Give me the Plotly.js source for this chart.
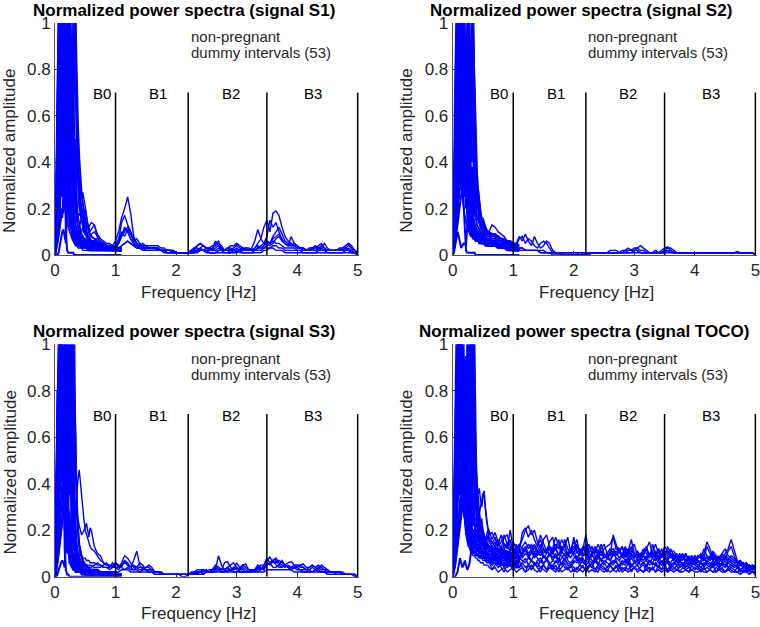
<!DOCTYPE html>
<html><head><meta charset="utf-8">
<script src="https://cdn.plot.ly/plotly-3.0.1.min.js"></script>
<style>html,body{margin:0;padding:0;background:#fff}#chart{width:760px;height:627px}</style>
</head><body><div id="chart"></div>
<script>
// ---------------- data ----------------
const freq = [0,.02,.04,.06,.08,.1,.12,.14,.16,.18,.2,.22,.24,.26,.28,.3,.32,.34,.36,.38,.4,.42,.44,.46,.48,.5,.52,.54,.56,.58,.6,
.65,.7,.75,.8,.85,.9,.95,1,1.05,1.1,
1.15,1.2,1.25,1.3,1.35,1.4,1.45,1.5,1.55,1.6,
1.65,1.7,1.75,1.8,1.85,1.9,1.95,2,2.05,2.1,
2.15,2.2,2.25,2.3,2.35,2.4,2.45,2.5,2.55,2.6,
2.65,2.7,2.75,2.8,2.85,2.9,2.95,3,3.05,3.1,
3.15,3.2,3.25,3.3,3.35,3.4,3.45,3.5,3.55,3.6,
3.65,3.7,3.75,3.8,3.85,3.9,3.95,4,4.05,4.1,
4.15,4.2,4.25,4.3,4.35,4.4,4.45,4.5,4.55,4.6,
4.65,4.7,4.75,4.8,4.85,4.9,4.95,5];

const bandEdges = [1, 2.2, 3.5, 5];
const bandTop = 0.7;
const bandLabels = ['B0', 'B1', 'B2', 'B3'];
const bandLabelX = [0.77, 1.7, 2.9, 4.26];
const noteLines = ['non-pregnant', 'dummy intervals (53)'];
const noteY = [0.94, 0.871];
const noteX = 2.21;
const panelTitles = ['Normalized power spectra (signal S1)', 'Normalized power spectra (signal S2)',
  'Normalized power spectra (signal S3)', 'Normalized power spectra (signal TOCO)'];
const xTitle = 'Frequency [Hz]';
const yTitle = 'Normalized amplitude';
const xTicks = [0, 1, 2, 3, 4, 5];
const yTicks = [0, 0.2, 0.4, 0.6, 0.8, 1];

// ===== S1 : low-frequency spectra (0 - 1.1 Hz) =====
const s1_p01 = [.02,.2,.6,1,.72,.95,.5,.8,.4,.55,.25,.3,.15,.12,.09,.07,.06,.05,.05,.04,.04,.04,.03,.03,.03,.03,.03,.02,.02,.02,.02, .02,.02,.02,.02,.02,.02,.02,.02,.02,.02];
const s1_p02 = [0,.08,.35,.78,1,.6,.92,.7,.28,.1,.02,.01,.01,.01,.01,.01,0,0,0,0,0,0,0,0,0,0,0,0,0,0,0, 0,0,0,0,0,0,0,0,0,0];
const s1_p03 = [.18,.22,.45,.7,.5,1,.62,.9,.48,.7,.35,.42,.2,.14,.1,.08,.07,.06,.05,.05,.04,.04,.04,.03,.03,.03,.03,.03,.03,.03,.02, .02,.02,.02,.02,.02,.02,.02,.02,.02,.02];
const s1_p04 = [0,.03,.15,.4,.85,.6,1,.55,.88,.45,.6,.3,.38,.18,.12,.09,.07,.06,.05,.05,.04,.04,.04,.03,.03,.03,.03,.03,.02,.02,.02, .02,.02,.02,.02,.02,.02,.02,.02,.02,.02];
const s1_p05 = [.2,.19,.3,.55,.4,.75,.5,1,.65,.9,.4,.55,.22,.3,.14,.1,.08,.07,.06,.06,.05,.05,.05,.04,.04,.04,.04,.03,.03,.03,.03, .03,.03,.03,.02,.02,.02,.02,.02,.02,.02];
const s1_p06 = [.05,.1,.25,.4,.62,.45,.8,.6,1,.7,.95,.5,.6,.25,.18,.12,.09,.08,.07,.06,.06,.05,.05,.05,.04,.04,.04,.04,.03,.03,.03, .03,.03,.03,.03,.02,.02,.02,.02,.02,.02];
const s1_p07 = [0,.04,.15,.3,.5,.38,.65,.45,.85,.6,1,.72,.9,.4,.5,.2,.14,.11,.09,.08,.07,.06,.06,.05,.05,.05,.04,.04,.04,.04,.03, .03,.03,.03,.03,.03,.02,.02,.02,.02,.02];
const s1_p08 = [.02,.06,.18,.3,.45,.65,.4,.7,.5,.9,.6,1,.55,.85,.3,.4,.18,.13,.1,.09,.08,.07,.06,.06,.05,.05,.05,.04,.04,.04,.04, .03,.03,.03,.03,.03,.03,.02,.02,.02,.02];
const s1_p09 = [0,.05,.12,.22,.35,.28,.5,.35,.65,.45,.8,.55,1,.6,.9,.35,.45,.2,.15,.12,.1,.09,.08,.07,.06,.06,.05,.05,.05,.04,.04, .04,.04,.03,.03,.03,.03,.03,.02,.02,.02];
const s1_p10 = [.08,.12,.18,.25,.3,.45,.32,.55,.4,.7,.5,.82,.62,1,.7,.88,.4,.5,.22,.16,.13,.11,.09,.08,.07,.07,.06,.06,.05,.05,.05, .04,.04,.04,.03,.03,.03,.03,.03,.02,.02];
const s1_p11 = [0,0,0,.01,.04,.08,.1,.11,.08,.05,.2,.45,.3,.65,.5,1,.7,.92,.45,.3,.22,.18,.15,.12,.1,.09,.08,.07,.06,.06,.05, .05,.04,.04,.04,.03,.03,.03,.03,.03,.02];
const s1_p12 = [.03,.05,.1,.16,.2,.3,.25,.4,.3,.55,.4,.7,.5,.85,.6,.95,.75,1,.5,.35,.25,.2,.17,.14,.12,.1,.09,.08,.07,.06,.06, .05,.05,.04,.04,.04,.03,.03,.03,.03,.03];
const s1_p13 = [.01,.03,.06,.1,.14,.2,.16,.28,.22,.38,.3,.5,.4,.62,.8,.55,1,.7,.62,.4,.3,.24,.2,.17,.14,.12,.1,.09,.08,.07,.06, .06,.05,.05,.04,.04,.04,.04,.03,.03,.03];
const s1_p14 = [0,.02,.05,.08,.12,.16,.2,.18,.25,.22,.32,.28,.42,.36,.55,.7,.9,1,.72,.55,.42,.32,.26,.22,.18,.15,.13,.11,.1,.09,.08, .07,.06,.05,.05,.04,.04,.04,.04,.03,.03];
const s1_p15 = [.1,.3,.7,1,.6,.85,.4,.7,.3,.5,.2,.3,.12,.2,.1,.15,.08,.12,.07,.1,.06,.08,.05,.06,.05,.05,.04,.04,.04,.04,.03, .03,.03,.03,.03,.03,.03,.03,.02,.02,.02];
// ===== S1 : full-range spectra (0 - 5 Hz) =====
const s1_f01 = [0,.05,.2,.45,.7,.9,1,.8,.55,.4,.3,.24,.2,.17,.15,.13,.12,.11,.1,.1,.09,.09,.08,.08,.07,.07,.06,.06,.05,.05,.05,
 .05,.04,.04,.03,.03,.03,.04,.06,.1,.16, .2,.25,.18,.08,.05,.04,.04,.03,.03,.03, .03,.02,.02,.02,.02,.02,.01,.01,.01,.01,
 .01,.01,.01,.01,.02,.02,.02,.01,.01,.01, .01,.01,.01,.01,.01,.01,.02,.02,.01,.01, .01,.01,.01,.01,.01,.01,.02,.02,.03,.03,
 .02,.02,.02,.01,.01,.01,.01,.01,.01,.01, .01,.01,.01,.01,.01,.01,.01,.01,.01,.01, .01,.01,.01,.01,.01,.01,.01,0];
const s1_f02 = [.1,.3,.65,1,.8,.55,.4,.3,.22,.18,.14,.12,.1,.09,.08,.07,.06,.06,.05,.05,.05,.04,.04,.04,.04,.03,.03,.03,.03,.03,.03,
 .03,.03,.02,.02,.02,.02,.02,.02,.03,.04, .05,.06,.05,.04,.03,.03,.02,.02,.02,.02, .02,.02,.02,.02,.01,.01,.01,.01,.01,.01,
 .01,.01,.02,.03,.04,.05,.04,.03,.03,.02, .03,.04,.03,.02,.02,.02,.03,.04,.03,.02, .03,.03,.02,.03,.05,.07,.12,.15,.1,.18,
 .19,.17,.12,.08,.06,.05,.04,.04,.03,.03, .02,.02,.03,.03,.03,.04,.03,.02,.02,.02, .02,.03,.03,.04,.05,.04,.02,.01];
const s1_f03 = [0,.02,.08,.2,.35,.5,.65,.8,.9,1,.85,.6,.45,.38,.32,.28,.24,.2,.18,.22,.27,.29,.26,.27,.24,.2,.17,.14,.12,.13,.14,
 .13,.09,.07,.06,.05,.05,.04,.04,.05,.08, .12,.1,.07,.05,.04,.04,.04,.03,.03,.03, .03,.03,.02,.02,.02,.02,.01,.01,.01,.01,
 .01,.01,.02,.03,.03,.02,.02,.03,.03,.02, .05,.06,.03,.02,.03,.03,.02,.02,.02,.03, .03,.02,.03,.06,.11,.07,.05,.08,.15,.12,
 .14,.1,.06,.05,.04,.04,.05,.04,.03,.02, .02,.03,.03,.04,.03,.02,.02,.02,.02,.02, .02,.02,.02,.03,.04,.03,.02,.01];
const s1_f04 = [.05,.15,.3,.5,.7,.85,.95,1,.7,.45,.3,.22,.18,.16,.14,.13,.12,.11,.1,.1,.12,.14,.18,.15,.12,.1,.09,.08,.07,.08,.09,
 .1,.08,.06,.05,.04,.04,.03,.03,.06,.14, .17,.13,.1,.06,.05,.04,.05,.04,.04,.04, .04,.04,.03,.03,.02,.02,.02,.01,.01,.01,
 .01,.01,.01,.02,.02,.03,.04,.03,.02,.03, .06,.04,.02,.02,.02,.02,.03,.05,.04,.03, .02,.02,.02,.03,.04,.03,.04,.05,.04,.05,
 .07,.08,.06,.05,.04,.08,.05,.04,.03,.03, .02,.02,.03,.03,.04,.05,.03,.02,.02,.02, .02,.02,.03,.03,.02,.02,.01,0];
const s1_f05 = [0,.03,.1,.25,.45,.7,.9,1,.92,.7,.5,.35,.25,.18,.14,.1,.08,.07,.06,.05,.05,.05,.04,.04,.04,.04,.03,.03,.03,.03,.03,
 .03,.03,.02,.02,.02,.02,.03,.03,.05,.08, .1,.12,.1,.07,.05,.04,.03,.03,.03,.03, .03,.02,.02,.02,.02,.02,.01,.01,.01,.01,
 .01,.01,.01,.02,.04,.05,.04,.03,.03,.04, .04,.05,.04,.02,.03,.04,.04,.05,.04,.03, .02,.02,.02,.02,.03,.04,.05,.06,.05,.07,
 .08,.09,.07,.05,.04,.05,.04,.03,.03,.02, .02,.02,.03,.03,.03,.03,.05,.03,.02,.02, .02,.02,.03,.04,.05,.03,.02,.01];
const s1_f06 = [.1,.25,.5,.8,1,.85,.6,.4,.3,.22,.16,.12,.1,.08,.07,.06,.05,.04,.04,.03,.03,.03,.03,.02,.02,.02,.02,.02,.02,.02,.02,
 .02,.02,.02,.02,.02,.02,.02,.02,.03,.04, .05,.06,.05,.04,.03,.03,.02,.02,.02,.02, .02,.02,.02,.01,.01,.01,.01,.01,.01,.01,
 .01,.01,.01,.01,.01,.02,.02,.02,.01,.01, .01,.02,.02,.01,.01,.01,.01,.02,.02,.01, .01,.01,.01,.02,.02,.02,.03,.03,.03,.04,
 .04,.03,.03,.02,.02,.02,.02,.02,.02,.01, .01,.01,.01,.01,.02,.02,.02,.01,.01,.01, .01,.01,.01,.02,.02,.01,.01,0];
const s1_f07 = [0,.04,.15,.35,.6,.85,1,.75,.9,.55,.35,.25,.2,.16,.14,.12,.11,.1,.1,.11,.1,.09,.1,.12,.1,.09,.11,.13,.12,.1,.11,
 .13,.08,.06,.05,.04,.03,.03,.04,.07,.1, .08,.11,.09,.06,.07,.05,.04,.04,.03,.03, .03,.03,.02,.02,.02,.02,.02,.01,.01,.01,
 .01,.01,.01,.02,.02,.03,.02,.02,.02,.02, .02,.03,.02,.02,.03,.02,.02,.03,.02,.02, .02,.02,.02,.02,.03,.03,.04,.06,.05,.08,
 .1,.12,.09,.06,.05,.04,.04,.03,.03,.03, .02,.02,.02,.03,.02,.03,.02,.02,.02,.02, .02,.02,.02,.02,.03,.02,.01,0];
const s1_f08 = [.05,.12,.3,.55,.8,1,.7,.85,.5,.35,.28,.22,.2,.18,.17,.16,.15,.14,.15,.16,.18,.17,.19,.2,.18,.2,.16,.12,.1,.09,.08,
 .07,.07,.06,.05,.04,.04,.03,.03,.05,.09, .11,.1,.07,.05,.04,.03,.03,.02,.02,.02, .02,.02,.02,.02,.01,.01,.01,.01,.01,.01,
 .01,.01,.01,.01,.02,.02,.02,.02,.01,.01, .01,.02,.02,.02,.02,.01,.01,.01,.02,.02, .02,.02,.02,.02,.02,.02,.03,.04,.05,.06,
 .05,.05,.04,.03,.03,.03,.03,.02,.02,.02, .02,.02,.02,.02,.02,.02,.02,.02,.02,.02, .02,.02,.02,.02,.02,.01,.01,0];

// ===== S2 : low-frequency spectra =====
const s2_p01 = [.15,.2,.5,.9,1,.7,.9,.5,.7,.35,.45,.2,.25,.13,.1,.09,.08,.07,.07,.06,.06,.06,.05,.05,.05,.05,.05,.04,.04,.04,.04, .04,.04,.03,.03,.03,.02,.02,.02,.02,.02];
const s2_p02 = [0,.05,.25,.6,.85,1,.65,.9,.4,.22,.08,.02,.01,.01,.01,.01,.01,.01,.01,0,0,0,0,0,0,0,0,0,0,0,0, 0,0,0,0,0,0,0,0,0,0];
const s2_p03 = [.05,.1,.3,.55,.8,.6,1,.7,.85,.45,.6,.3,.35,.16,.12,.1,.09,.08,.08,.07,.07,.06,.06,.06,.06,.05,.05,.05,.05,.05,.04, .04,.04,.04,.03,.03,.03,.02,.02,.02,.02];
const s2_p04 = [0,.02,.1,.28,.5,.72,.55,1,.65,.9,.45,.55,.25,.3,.15,.12,.1,.09,.08,.08,.07,.07,.07,.06,.06,.06,.06,.05,.05,.05,.05, .05,.04,.04,.04,.03,.03,.03,.02,.02,.02];
const s2_p05 = [.18,.2,.28,.4,.55,.45,.7,.5,1,.68,.85,.4,.5,.22,.28,.14,.12,.1,.09,.09,.08,.08,.08,.07,.07,.07,.07,.06,.06,.06,.06, .05,.05,.05,.04,.04,.03,.03,.03,.02,.02];
const s2_p06 = [.02,.06,.15,.28,.42,.55,.4,.68,.5,1,.7,.9,.45,.55,.25,.3,.15,.12,.11,.1,.09,.09,.08,.08,.08,.07,.07,.07,.06,.06,.06, .06,.05,.05,.04,.04,.04,.03,.03,.03,.02];
const s2_p07 = [0,.01,.04,.08,.1,.08,.05,.03,.04,.05,.05,.04,.12,.4,.25,.7,.5,1,.6,.38,.26,.2,.16,.13,.11,.1,.09,.08,.07,.07,.06, .06,.05,.05,.04,.04,.03,.03,.03,.02,.02];
const s2_p08 = [.03,.08,.16,.26,.38,.5,.6,.45,.8,.6,.95,.7,1,.5,.65,.3,.38,.16,.13,.12,.11,.1,.09,.09,.08,.08,.07,.07,.07,.06,.06, .06,.05,.05,.05,.04,.04,.03,.03,.03,.02];
const s2_p09 = [0,.03,.1,.18,.28,.38,.3,.5,.4,.66,.55,.84,.62,1,.7,.9,.4,.45,.2,.15,.13,.12,.11,.1,.09,.09,.08,.08,.07,.07,.07, .06,.06,.05,.05,.05,.04,.04,.03,.03,.03];
const s2_p10 = [.1,.12,.16,.22,.3,.38,.44,.36,.55,.45,.68,.56,.8,.65,1,.7,.9,.5,.35,.22,.17,.15,.13,.12,.11,.1,.1,.09,.09,.08,.08, .07,.07,.06,.06,.05,.05,.04,.04,.03,.03];
const s2_p11 = [0,.02,.06,.12,.18,.25,.32,.28,.4,.34,.5,.42,.62,.55,.78,.65,1,.8,.55,.35,.25,.2,.17,.15,.13,.12,.11,.1,.1,.09,.09, .08,.08,.07,.06,.06,.05,.05,.04,.04,.03];
const s2_p12 = [.02,.04,.08,.13,.18,.24,.3,.36,.3,.45,.38,.55,.48,.68,.58,.85,.7,1,.65,.42,.3,.24,.2,.17,.15,.13,.12,.11,.1,.1,.09, .09,.08,.08,.07,.06,.06,.05,.05,.04,.04];
const s2_p13 = [0,.02,.05,.09,.13,.17,.21,.25,.3,.26,.4,.34,.5,.44,.62,.55,.8,.92,.75,.5,.36,.28,.22,.18,.16,.14,.13,.12,.11,.1,.1, .09,.09,.08,.07,.07,.06,.06,.05,.05,.04];
const s2_p14 = [.01,.03,.07,.12,.2,.3,.42,.55,.7,.85,1,.6,.8,.4,.55,.26,.3,.16,.13,.11,.1,.09,.08,.08,.07,.07,.06,.06,.06,.05,.05, .05,.05,.04,.04,.04,.03,.03,.03,.02,.02];
const s2_p15 = [.12,.3,.75,1,.55,.9,.45,.75,.35,.55,.25,.38,.18,.25,.12,.16,.1,.12,.08,.09,.07,.07,.06,.06,.06,.05,.05,.05,.05,.04,.04, .04,.04,.03,.03,.03,.03,.02,.02,.02,.02];
// ===== S2 : full-range spectra =====
const s2_f01 = [0,.04,.15,.35,.6,.85,1,.85,.6,.42,.32,.26,.22,.2,.18,.16,.15,.16,.18,.22,.25,.29,.24,.18,.15,.16,.14,.12,.1,.09,.1,
 .13,.12,.1,.09,.08,.06,.05,.04,.03,.03, .03,.02,.02,.02,.02,.02,.01,.01,.01,.01, .01,.01,.01,.01,.01,.01,.01,.01,.01,.01,
 .01,.01,.01,.01,.01,.01,.01,.01,.01,.01, .01,.01,.01,.01,.01,.01,.01,.01,.01,.01, .01,.01,.01,.01,.01,.01,.01,.02,.02,.01,
 .01,.01,.01,.01,.01,.01,.01,.01,.01,.01, .01,.01,.01,.01,.01,.01,.01,.01,.01,.01, .01,.01,.01,.01,.01,.01,.01,0];
const s2_f02 = [.1,.2,.5,.8,1,.75,.5,.35,.25,.2,.16,.14,.12,.1,.09,.08,.08,.07,.07,.06,.06,.06,.06,.05,.05,.05,.05,.04,.04,.04,.04,
 .04,.04,.03,.03,.03,.03,.02,.03,.05,.08, .06,.09,.06,.04,.08,.05,.03,.04,.06,.05, .02,.01,.01,.01,.01,.01,.01,.01,.01,0,
 0,.01,.01,.01,.01,.01,.01,.01,.01,.01, .01,.01,.01,.01,.02,.02,.02,.03,.03,.04, .03,.02,.01,.01,.02,.01,.02,.03,.035,.02,
 .01,.01,.01,.01,.01,.01,.01,.01,.01,.01, .01,.01,.01,.01,.01,.01,.01,.01,.01,.01, .01,.015,.01,.01,.01,.01,.01,0];
const s2_f03 = [0,.03,.12,.3,.55,.8,.95,1,.7,.45,.3,.22,.17,.14,.12,.11,.1,.09,.09,.08,.08,.07,.07,.07,.06,.06,.06,.05,.05,.05,.05,
 .05,.04,.04,.04,.03,.03,.03,.02,.04,.07, .08,.05,.07,.06,.04,.03,.05,.06,.05,.03, .01,.01,.01,0,0,0,0,0,0,0,
 0,0,.01,.01,.01,.01,.01,.01,.01,.02, .02,.02,.01,.02,.02,.03,.02,.02,.03,.02, .02,.01,.01,.01,.01,.01,.01,.02,.03,.03,
 .02,.01,.01,.01,.01,.01,.01,.01,.01,.01, .01,.01,.01,.01,.01,.01,.01,.01,.01,.01, .01,.01,.01,.01,.01,.01,.01,0];
const s2_f04 = [.2,.3,.6,1,.8,.55,.4,.3,.25,.2,.17,.15,.13,.12,.11,.1,.1,.09,.09,.09,.08,.08,.08,.08,.07,.07,.07,.06,.06,.06,.06,
 .06,.05,.05,.04,.04,.03,.03,.02,.02,.02, .02,.02,.02,.02,.02,.02,.01,.01,.01,.01, .01,.01,.01,.01,0,0,0,0,0,0,
 .01,.01,.01,.01,.01,.01,.01,.01,.01,.01, .01,.01,.01,.01,.01,.02,.02,.02,.02,.01, .01,.01,.01,.01,.01,.01,.01,.01,.02,.02,
 .01,.01,.01,.01,.01,.01,.01,.01,.01,.01, .01,.01,.01,.01,.01,.01,.01,.01,.01,.01, .01,.01,.01,.01,.01,.01,.01,0];
const s2_f05 = [0,.02,.06,.15,.3,.5,.7,.85,.95,1,.8,.55,.4,.3,.24,.2,.17,.15,.14,.12,.11,.1,.1,.09,.09,.08,.08,.08,.07,.07,.07,
 .06,.06,.05,.05,.05,.04,.04,.03,.03,.03, .03,.02,.02,.02,.02,.02,.02,.02,.01,.01, 0,0,0,0,0,0,0,0,0,0,
 0,0,0,.01,.01,.01,.01,.01,.01,.01, .01,.01,.01,.01,.01,.01,.01,.02,.02,.01, .01,.01,.01,.01,.01,.01,.01,.01,.01,.01,
 .01,.01,.01,.01,.01,.01,.01,.01,.01,.01, .01,.01,.01,.01,.01,.01,.01,.01,.01,.01, .01,.01,.01,.01,.01,.01,.01,0];

// ===== S3 : low-frequency spectra =====
const s3_p01 = [.05,.3,.7,1,.6,.85,.4,.6,.2,.3,.1,.12,.06,.05,.04,.03,.03,.02,.02,.02,.02,.02,.01,.01,.01,.01,.01,.01,.01,.01,.01, .01,.01,.01,.01,.01,.01,.01,.01,.01,.01];
const s3_p02 = [0,.1,.45,.85,1,.6,.9,.35,.12,.03,.01,.01,0,0,0,0,0,0,0,0,0,0,0,0,0,0,0,0,0,0,0, 0,0,0,0,0,0,0,0,0,0];
const s3_p03 = [.15,.35,.6,.8,.5,1,.65,.85,.4,.5,.18,.22,.08,.06,.05,.04,.03,.03,.03,.02,.02,.02,.02,.02,.01,.01,.01,.01,.01,.01,.01, .01,.01,.01,.01,.01,.01,.01,.01,.01,.01];
const s3_p04 = [0,.05,.2,.45,.7,.5,1,.6,.8,.3,.42,.15,.18,.07,.05,.04,.04,.03,.03,.02,.02,.02,.02,.02,.02,.01,.01,.01,.01,.01,.01, .01,.01,.01,.01,.01,.01,.01,.01,.01,.01];
const s3_p05 = [.2,.22,.3,.5,.7,.55,.92,.65,1,.45,.6,.2,.28,.1,.08,.06,.05,.04,.04,.03,.03,.03,.02,.02,.02,.02,.02,.02,.02,.01,.01, .01,.01,.01,.01,.01,.01,.01,.01,.01,.01];
const s3_p06 = [.02,.08,.2,.38,.55,.7,.45,.8,.6,1,.65,.85,.35,.4,.12,.08,.06,.05,.04,.04,.03,.03,.03,.03,.02,.02,.02,.02,.02,.02,.02, .02,.02,.01,.01,.01,.01,.01,.01,.01,.01];
const s3_p07 = [0,0,.01,.03,.05,.06,.07,.06,.04,.15,.4,.25,.7,.5,1,.6,.3,.16,.1,.08,.06,.05,.04,.04,.03,.03,.03,.02,.02,.02,.02, .02,.02,.02,.02,.01,.01,.01,.01,.01,.01];
const s3_p08 = [0,.04,.12,.25,.4,.55,.65,.5,.85,.6,1,.7,.9,.4,.5,.14,.1,.07,.05,.04,.04,.03,.03,.03,.02,.02,.02,.02,.02,.02,.02, .02,.02,.02,.01,.01,.01,.01,.01,.01,.01];
const s3_p09 = [.05,.1,.18,.28,.38,.48,.4,.66,.5,.84,.6,1,.7,.9,.3,.4,.12,.08,.06,.05,.05,.04,.04,.03,.03,.03,.03,.02,.02,.02,.02, .02,.02,.02,.02,.01,.01,.01,.01,.01,.01];
const s3_p10 = [0,.03,.08,.15,.22,.3,.4,.32,.6,.45,.8,.6,1,.65,.85,.35,.25,.12,.09,.07,.06,.05,.04,.04,.03,.03,.03,.02,.02,.02,.02, .02,.02,.02,.02,.01,.01,.01,.01,.01,.01];
const s3_p11 = [.02,.05,.1,.16,.22,.28,.35,.42,.35,.58,.45,.75,.55,1,.7,.88,.3,.2,.14,.1,.08,.07,.06,.05,.04,.04,.03,.03,.03,.02,.02, .02,.02,.02,.02,.02,.01,.01,.01,.01,.01];
const s3_p12 = [0,.02,.06,.1,.15,.2,.26,.32,.38,.3,.52,.42,.7,.55,.82,.65,1,.48,.3,.2,.14,.11,.09,.07,.06,.05,.05,.04,.04,.03,.03, .03,.03,.02,.02,.02,.02,.02,.01,.01,.01];
const s3_p13 = [.01,.03,.06,.1,.14,.18,.23,.28,.33,.38,.32,.5,.42,.68,.55,1,.75,.6,.28,.18,.13,.1,.08,.07,.06,.05,.05,.04,.04,.03,.03, .03,.03,.02,.02,.02,.02,.02,.02,.01,.01];
const s3_p14 = [.1,.35,.8,.6,1,.7,.85,.5,.65,.3,.4,.18,.2,.1,.08,.06,.05,.04,.04,.03,.03,.03,.03,.02,.02,.02,.02,.02,.02,.02,.02, .02,.02,.02,.01,.01,.01,.01,.01,.01,.01];
// ===== S3 : full-range spectra =====
const s3_f01 = [0,.03,.1,.25,.45,.65,.85,1,.8,.55,.4,.3,.25,.22,.2,.18,.22,.3,.38,.42,.46,.4,.37,.3,.24,.2,.18,.16,.14,.13,.12,
 .11,.09,.07,.06,.05,.05,.04,.04,.04,.05, .06,.05,.04,.05,.04,.03,.03,.03,.03,.03, .02,.02,.02,.01,.01,.01,.01,.01,.01,.01,
 .01,.01,.01,.01,.02,.02,.03,.02,.02,.03, .04,.03,.02,.02,.03,.03,.02,.02,.03,.03, .02,.02,.03,.03,.04,.05,.05,.06,.05,.07,
 .05,.04,.04,.05,.04,.03,.04,.04,.03,.03, .03,.03,.02,.03,.03,.02,.02,.02,.02,.02, .01,.01,.01,.01,.01,.01,.01,0];
const s3_f02 = [.1,.3,.6,.9,1,.75,.5,.35,.27,.22,.2,.19,.18,.2,.22,.25,.3,.33,.28,.24,.22,.2,.18,.19,.2,.21,.23,.2,.17,.21,.2,
 .13,.1,.09,.06,.05,.05,.04,.06,.04,.04, .07,.05,.04,.07,.11,.05,.03,.04,.05,.04, .02,.02,.01,.01,.01,.01,.01,.01,.01,.01,
 .01,.01,.01,.01,.02,.02,.01,.02,.02,.02, .03,.09,.05,.03,.04,.05,.06,.04,.03,.05, .04,.03,.03,.02,.04,.03,.05,.08,.06,.04,
 .04,.05,.07,.05,.04,.03,.04,.03,.03,.02, .02,.02,.02,.03,.02,.02,.02,.01,.01,.01, .01,.01,.01,.01,.01,.01,.01,0];
const s3_f03 = [0,.02,.08,.2,.4,.6,.8,.95,1,.7,.45,.3,.22,.18,.16,.15,.14,.13,.12,.1,.1,.09,.09,.08,.08,.08,.07,.07,.07,.06,.06,
 .06,.05,.05,.04,.04,.04,.05,.04,.04,.06, .09,.08,.06,.04,.04,.04,.04,.03,.03,.03, .02,.02,.02,.01,.01,.01,.01,.01,.01,.01,
 .01,.01,.01,.02,.03,.03,.03,.02,.03,.03, .03,.04,.03,.06,.065,.04,.03,.06,.04,.05, .055,.03,.03,.02,.03,.04,.03,.07,.085,.06,
 .07,.05,.04,.05,.06,.065,.05,.04,.05,.04, .03,.04,.05,.04,.05,.04,.03,.03,.02,.02, .02,.02,.02,.01,.01,.01,.01,0];
const s3_f04 = [.2,.35,.7,1,.85,.6,.42,.3,.22,.17,.14,.12,.1,.09,.08,.07,.07,.06,.06,.06,.05,.05,.05,.05,.05,.05,.04,.04,.04,.04,.04,
 .05,.06,.05,.04,.04,.03,.04,.06,.05,.04, .03,.04,.03,.03,.03,.02,.03,.04,.04,.03, .02,.02,.01,.01,.01,.01,.01,.01,.01,0,
 0,.01,.01,.02,.02,.02,.02,.03,.02,.02, .02,.03,.03,.03,.02,.03,.04,.03,.02,.02, .02,.02,.03,.03,.02,.03,.04,.05,.06,.07,
 .06,.07,.06,.05,.04,.04,.05,.05,.05,.055, .04,.04,.05,.04,.03,.05,.04,.03,.02,.02, .02,.02,.01,.01,.01,.01,.01,0];
const s3_f05 = [0,.04,.15,.35,.6,.85,1,.75,.5,.32,.2,.14,.1,.08,.07,.06,.05,.05,.04,.04,.04,.04,.03,.03,.03,.03,.03,.03,.02,.02,.02,
 .02,.02,.02,.02,.02,.02,.02,.02,.02,.03, .03,.03,.02,.02,.02,.02,.02,.02,.02,.02, .01,.01,.01,.01,.01,.01,.01,.01,.01,.01,
 .01,.01,.01,.01,.01,.01,.01,.02,.02,.02, .02,.02,.02,.02,.02,.02,.02,.02,.02,.02, .02,.02,.02,.02,.02,.02,.02,.03,.03,.03,
 .03,.03,.03,.03,.03,.03,.02,.02,.02,.02, .02,.02,.02,.02,.02,.02,.02,.01,.01,.01, .01,.01,.01,.01,.01,.01,0,0];
const s3_f06 = [.05,.1,.3,.6,.85,1,.9,.6,.4,.28,.2,.15,.12,.1,.09,.08,.08,.07,.07,.07,.06,.06,.06,.06,.05,.05,.05,.05,.05,.05,.05,
 .04,.04,.04,.05,.06,.04,.06,.04,.03,.05, .07,.06,.04,.03,.04,.06,.05,.03,.02,.02, .01,.01,.01,.01,.01,.01,.01,.01,.01,.01,
 .01,.01,.02,.02,.01,.02,.03,.02,.02,.03, .05,.04,.03,.03,.04,.03,.03,.04,.03,.04, .03,.02,.02,.03,.05,.04,.03,.05,.06,.07,
 .08,.06,.05,.04,.05,.04,.04,.05,.04,.04, .03,.03,.04,.03,.04,.03,.03,.02,.02,.02, .02,.02,.01,.01,.01,.01,.01,0];

// ===== TOCO : low-frequency spectra =====
const s4_p01 = [.1,.3,.65,1,.7,.9,.5,.7,.35,.5,.25,.32,.2,.24,.17,.2,.15,.17,.14,.15,.13,.13,.12,.12,.11,.11,.1,.1,.1,.1,.09, .09,.09,.08,.08,.08,.07,.07,.07,.06,.06];
const s4_p02 = [0,.1,.4,.8,1,.6,.85,.45,.6,.28,.35,.18,.22,.13,.15,.11,.12,.1,.11,.09,.1,.09,.09,.08,.09,.08,.08,.08,.07,.07,.07, .07,.07,.06,.06,.06,.06,.05,.05,.05,.05];
const s4_p03 = [.15,.25,.45,.7,.5,1,.6,.92,.5,.7,.3,.4,.21,.26,.16,.18,.14,.15,.12,.13,.11,.12,.1,.11,.1,.1,.09,.1,.09,.09,.08, .08,.08,.08,.07,.07,.07,.07,.06,.06,.06];
const s4_p04 = [0,.05,.2,.4,.65,.5,1,.62,.88,.45,.6,.27,.35,.19,.22,.15,.17,.13,.14,.12,.12,.11,.11,.1,.1,.1,.1,.09,.09,.09,.08, .08,.08,.07,.07,.07,.07,.06,.06,.06,.06];
const s4_p05 = [.12,.15,.25,.42,.62,.48,.9,.6,1,.7,.86,.42,.5,.26,.3,.19,.2,.16,.16,.14,.14,.13,.12,.12,.11,.11,.11,.1,.1,.1,.1, .09,.09,.09,.08,.08,.08,.07,.07,.07,.07];
const s4_p06 = [.02,.08,.2,.36,.52,.68,.5,.78,.6,1,.72,.92,.45,.55,.26,.3,.2,.2,.16,.16,.14,.14,.13,.13,.12,.12,.12,.11,.11,.1,.1, .1,.09,.09,.09,.08,.08,.08,.07,.07,.07];
const s4_p07 = [0,.04,.12,.25,.4,.56,.7,.55,.82,.65,.94,.7,1,.52,.62,.3,.36,.22,.24,.17,.18,.15,.15,.14,.14,.13,.13,.12,.12,.12,.11, .11,.1,.1,.1,.09,.09,.09,.08,.08,.08];
const s4_p08 = [.05,.1,.18,.3,.45,.58,.64,.76,.6,.86,.7,.95,.75,1,.5,.6,.3,.36,.22,.2,.18,.17,.16,.15,.14,.14,.13,.13,.12,.12,.12, .11,.11,.11,.1,.1,.1,.09,.09,.09,.08];
const s4_p09 = [0,.05,.12,.2,.3,.42,.35,.55,.45,.72,.58,.83,.65,.93,.7,1,.55,.62,.3,.35,.22,.2,.17,.16,.15,.14,.14,.13,.13,.12,.12, .12,.11,.11,.1,.1,.1,.09,.09,.09,.08];
const s4_p10 = [.08,.12,.18,.25,.33,.4,.48,.4,.63,.5,.8,.6,.9,.7,1,.72,.85,.5,.4,.28,.24,.2,.18,.17,.16,.15,.14,.14,.13,.13,.12, .12,.12,.11,.11,.1,.1,.1,.09,.09,.09];
const s4_p11 = [0,.02,.05,.1,.15,.2,.26,.34,.28,.5,.4,.7,.55,.82,.65,1,.75,.92,.45,.35,.26,.22,.19,.17,.16,.15,.14,.14,.13,.13,.12, .12,.11,.11,.11,.1,.1,.1,.09,.09,.09];
const s4_p12 = [.03,.06,.1,.15,.2,.26,.32,.38,.44,.36,.56,.46,.72,.58,.86,.7,1,.8,.6,.4,.32,.26,.23,.2,.18,.17,.16,.15,.14,.13,.13, .12,.12,.11,.11,.11,.1,.1,.1,.09,.09];
const s4_p13 = [0,.02,.05,.09,.13,.17,.21,.25,.3,.36,.3,.48,.4,.65,.5,.9,.7,1,.55,.42,.34,.28,.24,.21,.19,.17,.16,.15,.14,.13,.13, .12,.12,.12,.11,.11,.1,.1,.1,.09,.09];
const s4_p14 = [.01,.03,.06,.1,.14,.18,.22,.27,.32,.38,.44,.5,.58,.5,.75,.6,.96,1,.7,.5,.4,.32,.27,.23,.2,.18,.17,.16,.15,.14,.13, .13,.12,.12,.11,.11,.11,.1,.1,.1,.09];
const s4_p15 = [0,0,0,.01,.02,.05,.08,.06,.04,.05,.07,.05,.03,.04,.06,.1,.3,.7,1,.6,.3,.2,.15,.12,.1,.09,.08,.08,.07,.07,.07, .06,.06,.06,.05,.05,.05,.05,.04,.04,.04];
// ===== TOCO : full-range spectra =====
const s4_f01 = [0,.05,.2,.5,.8,1,.85,.6,.45,.38,.32,.28,.25,.24,.23,.25,.28,.3,.32,.34,.35,.36,.38,.33,.3,.34,.37,.3,.24,.21,.18,
 .19,.16,.14,.18,.14,.12,.2,.12,.1,.13, .16,.2,.22,.18,.2,.15,.12,.16,.18,.13, .12,.17,.13,.1,.16,.12,.1,.17,.11,.09,
 .12,.18,.1,.13,.09,.08,.12,.14,.1,.09, .18,.14,.1,.13,.09,.11,.16,.1,.08,.1, .09,.12,.08,.14,.1,.08,.12,.08,.13,.1,
 .08,.1,.07,.09,.06,.08,.07,.09,.06,.07, .1,.15,.12,.08,.07,.09,.06,.1,.12,.16, .11,.07,.06,.05,.06,.04,.05,.04];
const s4_f02 = [.1,.2,.5,.85,1,.75,.55,.4,.32,.27,.24,.22,.2,.22,.25,.28,.3,.27,.28,.3,.32,.3,.27,.3,.33,.36,.34,.28,.24,.21,.2,
 .16,.19,.15,.12,.17,.18,.13,.1,.14,.11, .19,.21,.17,.2,.16,.13,.18,.14,.11,.15, .17,.12,.16,.11,.13,.17,.1,.12,.16,.1,
 .13,.11,.14,.1,.13,.11,.09,.12,.13,.14, .17,.12,.11,.09,.13,.1,.12,.14,.09,.08, .11,.13,.09,.11,.14,.1,.09,.13,.11,.08,
 .1,.07,.09,.08,.1,.07,.08,.06,.09,.08, .12,.09,.07,.1,.08,.06,.09,.07,.11,.13, .09,.06,.07,.05,.04,.05,.03,.05];
const s4_f03 = [0,.04,.15,.4,.7,.9,1,.8,.55,.4,.3,.24,.2,.18,.17,.16,.16,.15,.16,.18,.2,.17,.15,.14,.16,.15,.13,.12,.14,.13,.12,
 .1,.13,.11,.09,.12,.1,.08,.11,.09,.07, .1,.12,.09,.11,.08,.1,.12,.09,.07,.1, .11,.08,.1,.09,.07,.1,.08,.11,.08,.07,
 .09,.1,.07,.09,.08,.1,.07,.09,.08,.07, .1,.08,.07,.09,.07,.08,.1,.07,.06,.08, .07,.09,.06,.08,.07,.09,.06,.08,.07,.06,
 .08,.06,.07,.05,.07,.06,.08,.05,.07,.06, .05,.07,.06,.05,.07,.05,.06,.05,.07,.06, .05,.04,.06,.04,.05,.03,.04,.03];
const s4_f04 = [.15,.3,.6,.9,1,.8,.6,.45,.35,.3,.26,.24,.22,.2,.19,.18,.17,.16,.18,.17,.15,.16,.14,.13,.15,.14,.12,.11,.13,.12,.11,
 .12,.09,.1,.12,.08,.1,.11,.07,.09,.11, .08,.1,.09,.07,.1,.08,.06,.09,.08,.1, .07,.09,.06,.08,.1,.07,.06,.08,.09,.06,
 .08,.06,.09,.07,.06,.08,.07,.05,.08,.07, .06,.08,.07,.05,.07,.06,.08,.06,.05,.07, .06,.05,.07,.06,.05,.07,.05,.06,.07,.05,
 .06,.07,.05,.06,.04,.06,.05,.07,.05,.04, .06,.05,.04,.06,.05,.04,.06,.05,.04,.05, .04,.05,.03,.04,.03,.04,.03,.03];
const s4_f05 = [0,.02,.1,.3,.55,.8,.95,1,.75,.5,.35,.26,.2,.16,.14,.13,.12,.11,.1,.1,.09,.09,.08,.08,.08,.07,.07,.07,.06,.06,.06,
 .05,.06,.04,.05,.06,.04,.05,.03,.05,.04, .06,.04,.05,.03,.05,.06,.04,.05,.03,.04, .05,.03,.04,.06,.04,.03,.05,.04,.03,.05,
 .04,.03,.05,.04,.03,.05,.04,.03,.04,.05, .03,.04,.05,.03,.04,.03,.05,.04,.03,.04, .05,.03,.04,.03,.05,.04,.03,.04,.03,.05,
 .04,.03,.04,.05,.03,.04,.03,.04,.03,.04, .03,.04,.03,.02,.04,.03,.04,.02,.03,.04, .03,.02,.03,.02,.03,.02,.02,.02];
const s4_f06 = [.05,.15,.4,.75,.95,1,.8,.55,.4,.3,.23,.18,.15,.13,.12,.11,.1,.09,.09,.08,.08,.07,.07,.06,.06,.06,.05,.05,.05,.05,.04,
 .03,.04,.02,.03,.04,.02,.03,.04,.02,.03, .04,.02,.03,.05,.03,.02,.04,.03,.02,.04, .03,.02,.04,.02,.03,.04,.02,.03,.02,.03,
 .02,.04,.02,.03,.02,.04,.03,.02,.03,.02, .03,.02,.04,.02,.03,.02,.03,.04,.02,.03, .02,.03,.02,.04,.02,.03,.02,.03,.02,.03,
 .02,.03,.02,.02,.03,.02,.03,.02,.02,.03, .02,.02,.03,.02,.02,.03,.02,.02,.03,.02, .02,.02,.01,.02,.02,.01,.02,.01];
const s4_f07 = [0,.05,.18,.4,.62,.8,.92,1,.9,.7,.5,.38,.3,.25,.22,.2,.19,.18,.2,.22,.24,.21,.18,.2,.22,.2,.17,.15,.16,.18,.16,
 .14,.17,.13,.15,.18,.14,.11,.15,.12,.1, .13,.15,.12,.14,.1,.13,.16,.12,.1,.13, .11,.14,.12,.16,.13,.1,.12,.15,.13,.1,
 .11,.14,.1,.09,.12,.1,.14,.1,.08,.11, .12,.09,.11,.13,.08,.1,.13,.09,.11,.08, .1,.12,.15,.1,.08,.12,.09,.11,.1,.12,
 .09,.08,.1,.07,.09,.08,.07,.09,.08,.1, .08,.13,.1,.07,.09,.08,.1,.12,.09,.08, .07,.06,.05,.06,.04,.05,.04,.05];
const s4_f08 = [.1,.2,.45,.75,.95,1,.85,.65,.5,.4,.34,.3,.27,.25,.26,.28,.3,.28,.25,.24,.26,.22,.2,.23,.25,.2,.18,.16,.18,.2,.17,
 .15,.13,.16,.11,.12,.15,.1,.09,.12,.14, .12,.11,.14,.12,.09,.11,.14,.1,.12,.09, .1,.13,.09,.12,.14,.09,.11,.13,.1,.12,
 .1,.09,.12,.13,.1,.14,.11,.09,.1,.12, .1,.13,.12,.09,.1,.12,.1,.08,.11,.09, .12,.1,.08,.11,.09,.12,.08,.1,.09,.11,
 .11,.09,.08,.1,.07,.08,.09,.07,.08,.09, .07,.09,.08,.11,.09,.07,.1,.08,.07,.09, .08,.06,.05,.06,.05,.04,.05,.04];
const s4_f09 = [.05,.12,.35,.7,1,.88,.65,.48,.36,.29,.24,.2,.18,.16,.15,.14,.13,.13,.12,.12,.11,.11,.1,.1,.1,.09,.09,.09,.08,.08,.08,
 .07,.08,.06,.07,.09,.06,.08,.07,.06,.08, .07,.06,.08,.07,.05,.07,.08,.06,.07,.05, .07,.06,.08,.05,.07,.06,.05,.07,.06,.08,
 .06,.05,.07,.06,.08,.06,.05,.07,.06,.05, .07,.06,.05,.07,.06,.08,.05,.06,.07,.05, .06,.07,.05,.06,.08,.06,.05,.07,.06,.05,
 .06,.05,.07,.05,.06,.05,.07,.06,.05,.06, .05,.06,.05,.07,.05,.06,.05,.04,.06,.05, .05,.04,.05,.04,.03,.04,.03,.04];
const s4_f10 = [0,.03,.12,.3,.5,.7,.85,.96,1,.82,.6,.45,.35,.28,.24,.22,.2,.19,.18,.17,.19,.2,.18,.16,.17,.19,.16,.14,.15,.17,.15,
 .13,.15,.12,.1,.14,.13,.16,.1,.11,.08, .11,.13,.1,.12,.14,.11,.09,.12,.1,.13, .1,.12,.09,.13,.11,.09,.12,.1,.14,.11,
 .09,.12,.08,.1,.12,.09,.11,.08,.1,.09, .11,.09,.12,.08,.1,.09,.11,.1,.08,.1, .09,.08,.1,.09,.11,.08,.1,.09,.08,.1,
 .08,.09,.07,.08,.1,.07,.08,.07,.09,.08, .07,.08,.07,.09,.07,.08,.07,.09,.08,.07, .06,.07,.05,.06,.04,.05,.04,.03];
const s4_f11 = [.05,.2,.5,.85,1,.75,.9,.55,.4,.3,.24,.2,.17,.15,.14,.13,.12,.11,.11,.1,.1,.09,.09,.09,.08,.08,.08,.07,.07,.07,.07,
 .06,.08,.05,.07,.04,.06,.08,.05,.07,.04, .06,.08,.05,.07,.06,.04,.07,.05,.08,.06, .04,.07,.05,.06,.08,.05,.04,.06,.07,.05,
 .07,.05,.06,.04,.07,.05,.08,.06,.04,.06, .05,.07,.04,.06,.05,.07,.04,.06,.08,.05, .06,.04,.07,.05,.06,.04,.07,.05,.06,.04,
 .05,.07,.04,.06,.05,.04,.06,.05,.04,.06, .04,.06,.05,.04,.06,.04,.05,.07,.04,.05, .04,.05,.03,.04,.05,.03,.04,.03];
const s4_f12 = [0,.05,.2,.45,.7,.55,.95,1,.8,.55,.38,.28,.22,.18,.16,.14,.13,.12,.11,.11,.1,.1,.09,.09,.09,.08,.08,.08,.08,.07,.07,
 .03,.05,.07,.04,.02,.05,.06,.03,.05,.07, .04,.02,.05,.03,.06,.04,.02,.05,.03,.06, .03,.05,.02,.04,.06,.03,.05,.02,.04,.03,
 .05,.02,.04,.06,.03,.02,.05,.04,.02,.05, .03,.05,.02,.04,.03,.06,.02,.04,.05,.03, .02,.05,.03,.04,.02,.05,.03,.06,.02,.04,
 .03,.05,.02,.04,.03,.02,.05,.03,.04,.02, .04,.02,.03,.05,.02,.04,.03,.02,.04,.03, .02,.04,.02,.03,.02,.03,.02,.02];
const s4_f13 = [.1,.25,.6,.9,.7,1,.8,.6,.45,.34,.27,.22,.19,.17,.16,.15,.14,.14,.13,.12,.12,.11,.11,.11,.1,.1,.1,.1,.09,.09,.09,
 .09,.11,.08,.1,.12,.08,.1,.07,.09,.11, .09,.12,.08,.1,.13,.09,.11,.08,.1,.12, .08,.1,.07,.11,.09,.08,.12,.09,.07,.1,
 .09,.12,.08,.1,.07,.09,.11,.08,.1,.07, .09,.11,.08,.1,.12,.07,.09,.08,.1,.07, .09,.07,.1,.08,.11,.07,.09,.08,.07,.09,
 .07,.09,.06,.08,.07,.09,.06,.08,.07,.06, .08,.06,.09,.07,.06,.08,.07,.09,.06,.07, .06,.05,.07,.05,.06,.04,.05,.03];

const panelPeak = [
  [s1_p01,s1_p02,s1_p03,s1_p04,s1_p05,s1_p06,s1_p07,s1_p08,s1_p09,s1_p10,s1_p11,s1_p12,s1_p13,s1_p14,s1_p15],
  [s2_p01,s2_p02,s2_p03,s2_p04,s2_p05,s2_p06,s2_p07,s2_p08,s2_p09,s2_p10,s2_p11,s2_p12,s2_p13,s2_p14,s2_p15],
  [s3_p01,s3_p02,s3_p03,s3_p04,s3_p05,s3_p06,s3_p07,s3_p08,s3_p09,s3_p10,s3_p11,s3_p12,s3_p13,s3_p14],
  [s4_p01,s4_p02,s4_p03,s4_p04,s4_p05,s4_p06,s4_p07,s4_p08,s4_p09,s4_p10,s4_p11,s4_p12,s4_p13,s4_p14,s4_p15]
];
const panelFull = [
  [s1_f01,s1_f02,s1_f03,s1_f04,s1_f05,s1_f06,s1_f07,s1_f08],
  [s2_f01,s2_f02,s2_f03,s2_f04,s2_f05],
  [s3_f01,s3_f02,s3_f03,s3_f04,s3_f05,s3_f06],
  [s4_f01,s4_f02,s4_f03,s4_f04,s4_f05,s4_f06,s4_f07,s4_f08,s4_f09,s4_f10,s4_f11,s4_f12,s4_f13]
];

// ---------------- geometry / style ----------------
const W = 760, H = 627;
const colPx = [[55, 358.9], [452.7, 756.6]];
const rowPx = [[23, 255], [344.3, 576.7]];
const titlePos = [[183.5, 10], [581, 10], [183.5, 331.5], [584, 331.5]];
const xLabPos = [[198.5, 292], [596, 292], [198.5, 613.5], [596, 613.5]];
const yLabPos = [[10, 151], [406.7, 151], [10, 472.5], [406.7, 472.5]];
const FONT = 'Liberation Sans, Arial, Helvetica, sans-serif';
const TXT = '#262626';
const BLUE = '#0000ff';

const traces = [];
const annotations = [];
const layout = {
  width: W, height: H, margin: {l: 0, r: 0, t: 0, b: 0},
  paper_bgcolor: '#ffffff', plot_bgcolor: 'rgba(0,0,0,0)', showlegend: false,
  font: {family: FONT, size: 17, color: TXT},
  annotations: annotations
};

for (let p = 0; p < 4; p++) {
  const n = p + 1;
  const xa = n === 1 ? 'x' : 'x' + n, ya = n === 1 ? 'y' : 'y' + n;
  const c = colPx[p % 2], r = rowPx[Math.floor(p / 2)];
  layout[n === 1 ? 'xaxis' : 'xaxis' + n] = {
    domain: [c[0] / W, c[1] / W], range: [0, 5.02], anchor: ya,
    tickvals: xTicks, ticktext: xTicks.map(String), ticks: 'inside', ticklen: 4, tickcolor: TXT,
    showline: true, linecolor: '#555', linewidth: 1, showgrid: false, zeroline: false,
    tickfont: {family: FONT, size: 17, color: TXT}, layer: 'below traces', fixedrange: true,
    ticklabeloverflow: 'allow'
  };
  layout[n === 1 ? 'yaxis' : 'yaxis' + n] = {
    domain: [1 - r[1] / H, 1 - r[0] / H], range: [0, 1], anchor: xa,
    tickvals: yTicks, ticktext: yTicks.map(String), ticks: 'inside', ticklen: 4, tickcolor: TXT,
    showline: true, linecolor: '#555', linewidth: 1, showgrid: false, zeroline: false,
    tickfont: {family: FONT, size: 17, color: TXT}, fixedrange: true
  };
  panelPeak[p].forEach(s => traces.push({
    x: freq, y: s, type: 'scatter', mode: 'lines', xaxis: xa, yaxis: ya,
    line: {color: BLUE, width: 2}, hoverinfo: 'skip'
  }));
  panelFull[p].forEach(s => traces.push({
    x: freq, y: s, type: 'scatter', mode: 'lines', xaxis: xa, yaxis: ya,
    line: {color: BLUE, width: 1.4}, hoverinfo: 'skip'
  }));
  bandEdges.forEach(e => traces.push({
    x: [e, e], y: [0, bandTop], type: 'scatter', mode: 'lines', xaxis: xa, yaxis: ya,
    line: {color: '#000', width: 1.5}, hoverinfo: 'skip'
  }));
  bandLabels.forEach((b, i) => annotations.push({
    x: bandLabelX[i], y: bandTop - 0.005, xref: xa, yref: ya, text: b, showarrow: false,
    xanchor: 'center', yanchor: 'middle', font: {family: FONT, size: 15, color: '#000'}
  }));
  noteLines.forEach((t, i) => annotations.push({
    x: noteX, y: noteY[i], xref: xa, yref: ya, text: t, showarrow: false,
    xanchor: 'left', yanchor: 'middle', font: {family: FONT, size: 15, color: TXT}
  }));
  annotations.push({
    x: titlePos[p][0] / W, y: 1 - titlePos[p][1] / H, xref: 'paper', yref: 'paper',
    text: panelTitles[p], showarrow: false, xanchor: 'center', yanchor: 'middle',
    font: {family: FONT, size: 17, color: '#000', weight: 'bold'}
  });
  annotations.push({
    x: xLabPos[p][0] / W, y: 1 - xLabPos[p][1] / H, xref: 'paper', yref: 'paper',
    text: xTitle, showarrow: false, xanchor: 'center', yanchor: 'middle',
    font: {family: FONT, size: 17, color: TXT}
  });
  annotations.push({
    x: yLabPos[p][0] / W, y: 1 - yLabPos[p][1] / H, xref: 'paper', yref: 'paper',
    text: yTitle, showarrow: false, textangle: -90, xanchor: 'center', yanchor: 'middle',
    font: {family: FONT, size: 17, color: TXT}
  });
}

Plotly.newPlot('chart', traces, layout, {staticPlot: true, displayModeBar: false});
</script>
</body></html>
